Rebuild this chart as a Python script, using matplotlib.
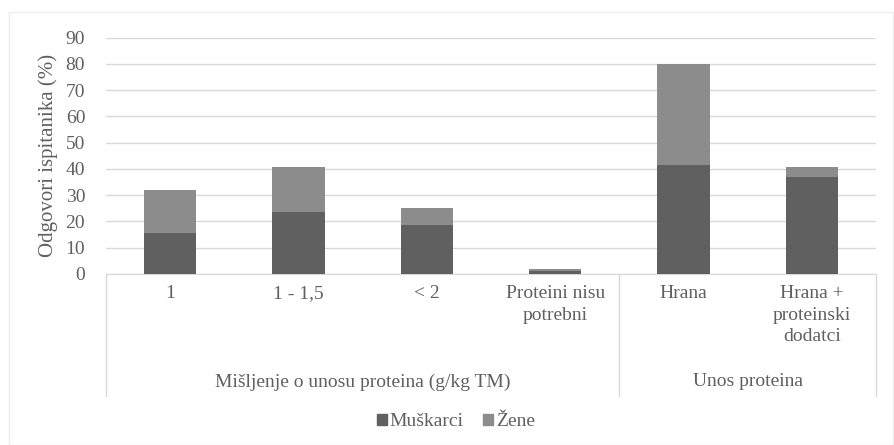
import matplotlib
matplotlib.use('Agg')
import matplotlib.pyplot as plt
import matplotlib.transforms as mtransforms
from matplotlib.patches import Rectangle, Patch
import numpy as np

# data
categories = ['1', '1 - 1,5', '< 2', 'Proteini nisu\npotrebni', 'Hrana',
              'Hrana +\nproteinski\ndodatci']
groups = ['Mišljenje o unosu proteina (g/kg TM)', 'Unos proteina']
group_spans = [(0, 3), (4, 5)]
muskarci = [15.5, 23.6, 18.6, 1.0, 41.5, 37.1]
zene = [16.3, 17.0, 6.7, 1.0, 38.5, 3.8]
yticks = list(range(0, 100, 10))

c_men = '#606060'
c_women = '#8c8c8c'
c_text = '#606060'
c_grid = '#d9d9d9'
fs = 14

plt.rcParams['font.family'] = ['Liberation Serif', 'DejaVu Serif']
plt.rcParams['font.size'] = fs

fig = plt.figure(figsize=(8.94, 4.45), dpi=100)
ax = fig.add_axes([106/894, 1 - 274/445, 770/894, (274 - 37.5)/445])

x = np.arange(len(categories))
w = 0.41
ax.bar(x, muskarci, w, color=c_men, zorder=3)
ax.bar(x, zene, w, bottom=muskarci, color=c_women, zorder=3)

ax.set_xlim(-0.5, len(categories) - 0.5)
ax.set_ylim(0, 90)
ax.set_yticks(yticks)
ax.yaxis.grid(True, color=c_grid, lw=1)
ax.set_axisbelow(True)
ax.tick_params(axis='y', length=0, colors=c_text, labelsize=fs, pad=15)
ax.set_xticks([])
for s in ['top', 'right', 'left']:
    ax.spines[s].set_visible(False)
ax.spines['bottom'].set_color(c_grid)
ax.set_ylabel('Odgovori ispitanika (%)', color=c_text, fontsize=15)
ax.yaxis.set_label_coords(-0.062, 0.5)

# multi level category axis
trans = mtransforms.blended_transform_factory(ax.transData, ax.transAxes)
ax_h = 274 - 37.5
def ay(py):
    return (274 - py) / ax_h

for i, lab in enumerate(categories):
    ax.text(i, ay(285), lab, transform=trans, ha='center', va='top',
            color=c_text, fontsize=fs, linespacing=1.35)
for (a, b), g in zip(group_spans, groups):
    ax.text((a + b) / 2, ay(382), g, transform=trans, ha='center',
            va='center', color=c_text, fontsize=fs)
for xb in [-0.5, 3.5, 5.5]:
    ax.plot([xb, xb], [0, ay(396)], transform=trans, color=c_grid, lw=1,
            clip_on=False)

# faint outer frame
fig.patches.append(Rectangle((9/894, 0), 884/894, 1 - 12/445,
                             transform=fig.transFigure, fill=False,
                             edgecolor='#ececec', lw=1))

handles = [Patch(color=c_men), Patch(color=c_women)]
fig.legend(handles, ['Muškarci', 'Žene'], loc='center',
           bbox_to_anchor=(456/894, 1 - 422/445), ncol=2, frameon=False,
           handlelength=0.5, handleheight=0.5, handletextpad=0.15,
           columnspacing=1.0, labelcolor=c_text, fontsize=fs)

fig.savefig('out.png', dpi=100)
